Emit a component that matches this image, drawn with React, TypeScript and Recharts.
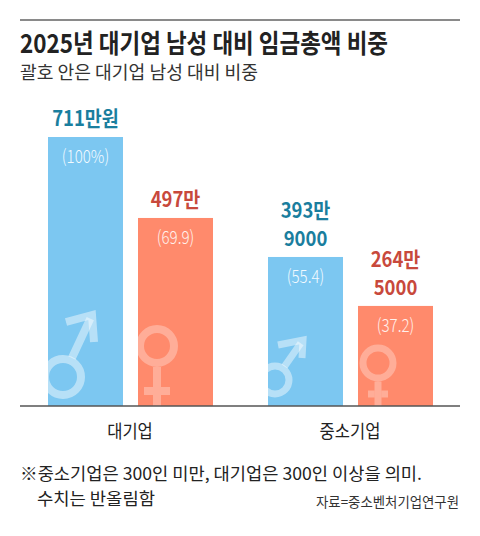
import React from 'react';
import { BarChart, Bar, XAxis, YAxis } from 'recharts';

const CATEGORIES = ['대기업', '중소기업'];
const MALE_WAGE = [711, 393.9];
const FEMALE_WAGE = [497, 264.5];
const MALE_LABEL = [['711만원'], ['393만', '9000']];
const FEMALE_LABEL = [['497만'], ['264만', '5000']];
const MALE_SHARE = ['(100%)', '(55.4)'];
const FEMALE_SHARE = ['(69.9)', '(37.2)'];

const data = CATEGORIES.map((name, i) => ({
  name,
  male: MALE_WAGE[i],
  female: FEMALE_WAGE[i],
}));

const FONT = "'Noto Sans CJK KR', 'Noto Sans', sans-serif";
const BLUE = '#7CC7F1';
const ORANGE = '#FF8A6C';
const BLUE_TEXT = '#1A7E9E';
const RED_TEXT = '#C8493C';

const MALE_SYM = [
  { cx: 15, cy: 29, r: 18, sw: 8, tip: [29, -62], a1: [3, -55], a2: [31, -35] },
  { cx: 7, cy: 26, r: 14, sw: 7, tip: [28, -40], a1: [3, -35], a2: [27, -22] },
];
const FEMALE_SYM = [
  { cx: 19, cy: 60, r: 17, sw: 8, crossDy: 45, crossHw: 13 },
  { cx: 20, cy: 43, r: 15, sw: 7, crossDy: 31, crossHw: 10 },
];

function Labels({ cx, top, lines, share, color, shareColor }: any) {
  const n = lines.length;
  return (
    <g fontFamily={FONT}>
      {lines.map((t: string, k: number) => (
        <text
          key={k}
          transform={`translate(${cx},${top - 11 - (n - 1 - k) * 28}) scale(0.88,1)`}
          textAnchor="middle"
          fontSize={21}
          fontWeight={700}
          fill={color}
        >
          {t}
        </text>
      ))}
      <text
        transform={`translate(${cx},${top + 26}) scale(0.84,1)`}
        textAnchor="middle"
        fontSize={18}
        fontWeight={300}
        fill={shareColor}
      >
        {share}
      </text>
    </g>
  );
}

function MaleShape(props: any) {
  const { x, y, width, height, index } = props;
  const s = MALE_SYM[index];
  const bottom = y + height;
  const cx = x + s.cx;
  const cy = bottom - s.cy;
  const len = Math.hypot(s.tip[0], s.tip[1]);
  const dx = s.tip[0] / len;
  const dy = s.tip[1] / len;
  const id = `male-clip-${index}`;
  const col = 'rgba(255,255,255,0.45)';
  return (
    <g>
      <rect x={x} y={y} width={width} height={height} fill={BLUE} />
      <defs>
        <clipPath id={id}>
          <rect x={x} y={y} width={width} height={height} />
        </clipPath>
      </defs>
      <g clipPath={`url(#${id})`} fill="none" stroke={col} strokeWidth={s.sw}>
        <circle cx={cx} cy={cy} r={s.r} />
        <line
          x1={cx + dx * (s.r + s.sw / 2 - 1)}
          y1={cy + dy * (s.r + s.sw / 2 - 1)}
          x2={cx + s.tip[0] - dx * 4}
          y2={cy + s.tip[1] - dy * 4}
        />
        <path
          d={`M${cx + s.a1[0]},${cy + s.a1[1]} L${cx + s.tip[0]},${cy + s.tip[1]} L${cx + s.a2[0]},${cy + s.a2[1]}`}
          strokeLinejoin="miter"
        />
      </g>
      <Labels
        cx={x + width / 2}
        top={y}
        lines={MALE_LABEL[index]}
        share={MALE_SHARE[index]}
        color={BLUE_TEXT}
        shareColor="#F2FAFF"
      />
    </g>
  );
}

function FemaleShape(props: any) {
  const { x, y, width, height, index } = props;
  const s = FEMALE_SYM[index];
  const bottom = y + height;
  const cx = x + s.cx;
  const cy = bottom - s.cy;
  const id = `female-clip-${index}`;
  const col = 'rgba(255,255,255,0.3)';
  return (
    <g>
      <rect x={x} y={y} width={width} height={height} fill={ORANGE} />
      <defs>
        <clipPath id={id}>
          <rect x={x} y={y} width={width} height={height} />
        </clipPath>
      </defs>
      <g clipPath={`url(#${id})`} fill="none" stroke={col} strokeWidth={s.sw}>
        <circle cx={cx} cy={cy} r={s.r} />
        <line x1={cx} y1={cy + s.r + s.sw / 2} x2={cx} y2={bottom + 5} />
        <line
          x1={cx - s.crossHw}
          y1={cy + s.crossDy}
          x2={cx - s.sw / 2}
          y2={cy + s.crossDy}
        />
        <line
          x1={cx + s.sw / 2}
          y1={cy + s.crossDy}
          x2={cx + s.crossHw}
          y2={cy + s.crossDy}
        />
      </g>
      <Labels
        cx={x + width / 2}
        top={y}
        lines={FEMALE_LABEL[index]}
        share={FEMALE_SHARE[index]}
        color={RED_TEXT}
        shareColor="#FFF1EC"
      />
    </g>
  );
}

function CategoryTick(props: any) {
  const { x, y, payload } = props;
  return (
    <text
      transform={`translate(${x},${y + 32}) scale(0.92,1)`}
      textAnchor="middle"
      fontFamily={FONT}
      fontSize={18}
      fill="#222"
    >
      {payload.value}
    </text>
  );
}

export default function App() {
  return (
    <div
      style={{
        position: 'absolute',
        left: 0,
        top: 0,
        width: 480,
        height: 536,
        background: '#fff',
        overflow: 'hidden',
      }}
    >
      <svg
        width={480}
        height={536}
        style={{ position: 'absolute', left: 0, top: 0 }}
        fontFamily={FONT}
      >
        <line x1={20} y1={20} x2={460} y2={20} stroke="#8A8A8A" strokeWidth={2} />
        <text
          x={20}
          y={53}
          fontSize={26}
          fontWeight={700}
          fill="#222"
          textLength={368}
          lengthAdjust="spacingAndGlyphs"
        >
          2025년 대기업 남성 대비 임금총액 비중
        </text>
        <text
          x={20}
          y={79}
          fontSize={18}
          fill="#333"
          textLength={238}
          lengthAdjust="spacingAndGlyphs"
        >
          괄호 안은 대기업 남성 대비 비중
        </text>
        <text
          x={20}
          y={480}
          fontSize={17}
          fill="#222"
          textLength={402}
          lengthAdjust="spacingAndGlyphs"
        >
          ※중소기업은 300인 미만, 대기업은 300인 이상을 의미.
        </text>
        <text
          x={37}
          y={505}
          fontSize={17}
          fill="#222"
          textLength={118}
          lengthAdjust="spacingAndGlyphs"
        >
          수치는 반올림함
        </text>
        <text
          x={316}
          y={507}
          fontSize={14}
          fill="#333"
          textLength={143}
          lengthAdjust="spacingAndGlyphs"
        >
          자료=중소벤처기업연구원
        </text>
      </svg>
      <div style={{ position: 'absolute', left: 20, top: 90 }}>
        <BarChart
          width={440}
          height={360}
          data={data}
          margin={{ top: 47, right: 0, left: 0, bottom: 0 }}
          barCategoryGap={28}
          barGap={15}
        >
          <YAxis hide domain={[0, 'dataMax']} />
          <Bar dataKey="male" isAnimationActive={false} shape={MaleShape} />
          <Bar dataKey="female" isAnimationActive={false} shape={FemaleShape} />
          <XAxis
            dataKey="name"
            height={44}
            tickLine={false}
            tickSize={0}
            tickMargin={0}
            axisLine={{ stroke: '#555', strokeWidth: 1.5 }}
            tick={CategoryTick}
            interval={0}
          />
        </BarChart>
      </div>
    </div>
  );
}
